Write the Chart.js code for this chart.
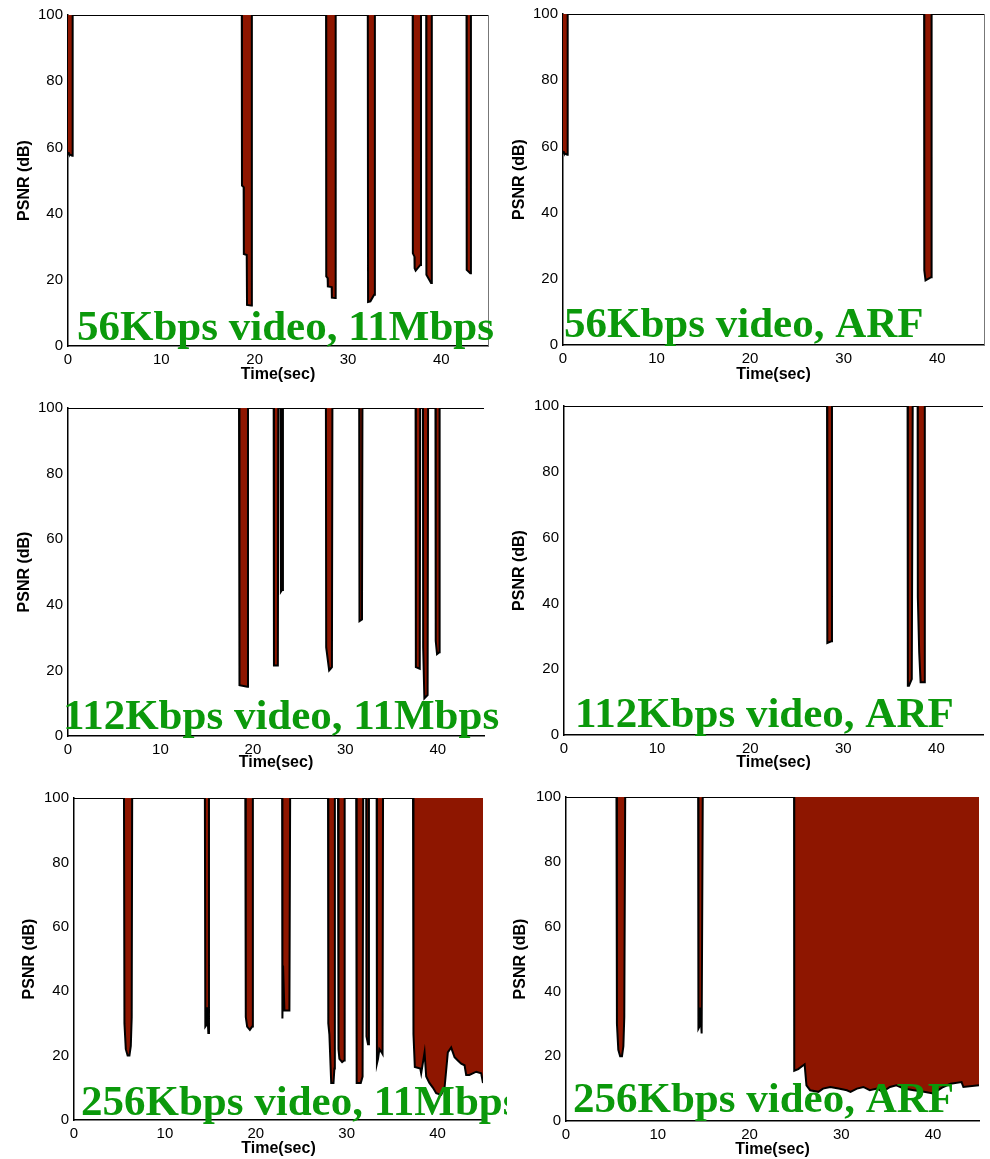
<!DOCTYPE html>
<html>
<head>
<meta charset="utf-8">
<script src="https://cdn.jsdelivr.net/npm/chart.js@4.4.1/dist/chart.umd.min.js"></script>
<style>
  body { margin: 0; background: #fff; width: 990px; height: 1159px; position: relative; overflow: hidden; }
  canvas { position: absolute; }
</style>
</head>
<body>
<canvas id="c1"></canvas>
<canvas id="c2"></canvas>
<canvas id="c3"></canvas>
<canvas id="c4"></canvas>
<canvas id="c5"></canvas>
<canvas id="c6"></canvas>
<script>
// tick labels
var timeTicks = [0, 10, 20, 30, 40];
var psnrTicks = [0, 20, 40, 60, 80, 100];

// 56Kbps video, 11Mbps
var time56_11 = [0, 0.1, 0.45, 0.5,
  18.62, 18.64, 18.82, 18.84, 19.15, 19.18, 19.65, 19.7,
  27.65, 27.67, 27.82, 27.84, 28.25, 28.27, 28.63, 28.68,
  32.12, 32.15, 32.4, 32.8, 32.88,
  36.93, 36.95, 37.12, 37.14, 37.25, 37.75, 37.82,
  38.38, 38.4, 38.9, 38.98,
  42.7, 42.72, 43.1, 43.17, 45];
var psnr56_11 = [58.5, 58, 57.5, 100,
  100, 48.5, 48, 27.8, 27.5, 12.4, 12.2, 100,
  100, 21, 20.5, 18, 17.8, 14.6, 14.5, 100,
  100, 13.3, 13.5, 15.5, 100,
  100, 28, 27, 23.5, 22.8, 24.5, 100,
  100, 21.5, 19, 100,
  100, 23, 22, 100, 100];

// 56Kbps video, ARF
var time56_arf = [0, 0.1, 0.45, 0.5, 38.6, 38.62, 38.75, 39.35, 39.4, 45];
var psnr56_arf = [58.5, 58, 57.5, 100, 100, 22.5, 19.5, 20.5, 100, 100];

// 112Kbps video, 11Mbps
var time112_11 = [0,
  18.5, 18.55, 19.4, 19.47,
  22.25, 22.28, 22.7, 22.75,
  23.0, 23.03, 23.15, 23.25,
  27.9, 27.93, 28.25, 28.4, 28.55, 28.6,
  31.5, 31.53, 31.8, 31.85,
  37.6, 37.63, 38.05, 38.1,
  38.4, 38.42, 38.55, 38.9, 38.95,
  39.75, 39.78, 39.92, 40.15, 40.2, 45];
var psnr112_11 = [100,
  100, 15.5, 15, 100,
  100, 21.5, 21.5, 100,
  100, 44, 44.5, 100,
  100, 27, 20, 20.5, 21, 100,
  100, 35, 35.5, 100,
  100, 21, 20.5, 100,
  100, 27, 11.5, 12.5, 100,
  100, 29, 25, 25.5, 100, 100];

// 112Kbps video, ARF
var time112_arf = [0,
  28.25, 28.28, 28.7, 28.78,
  36.9, 36.93, 37.05, 37.35, 37.45,
  37.98, 38.0, 38.15, 38.3, 38.68, 38.75, 45];
var psnr112_arf = [100,
  100, 28, 28.5, 100,
  100, 15, 15, 17, 100,
  100, 42, 25, 16, 16, 100, 100];

// 256Kbps video, 11Mbps
var time256_11 = [0,
  5.5, 5.55, 5.7, 5.9, 6.1, 6.25, 6.35, 6.4,
  14.4, 14.45, 14.58, 14.65, 14.78, 14.85,
  18.85, 18.9, 19.05, 19.35, 19.6, 19.68,
  22.9, 22.93, 23.0, 23.15, 23.7, 23.78,
  27.95, 27.98, 28.1, 28.3, 28.55, 28.65, 28.7,
  29.05, 29.1, 29.2, 29.5, 29.72, 29.78,
  31.05, 31.1, 31.55, 31.75, 31.82,
  32.15, 32.18, 32.35, 32.45,
  33.3, 33.33, 33.45, 33.6, 33.85, 33.95, 34.0,
  37.3, 37.35, 37.5, 38.1, 38.2, 38.57, 38.75, 39.1, 39.5, 39.85, 40.4, 40.77,
  41.13, 41.5, 41.87, 42.23, 42.6, 42.97, 43.15, 43.5, 44.26, 44.8, 45];
var psnr256_11 = [100,
  100, 30, 22, 20, 20, 23, 32, 100,
  100, 29, 29.5, 35, 27, 100,
  100, 32, 29, 28, 29, 100,
  100, 31.5, 48, 34, 34, 100,
  100, 30, 26.5, 11.5, 11.5, 16, 100,
  100, 22, 19, 18, 18.5, 100,
  100, 11.5, 11.5, 13.5, 100,
  100, 26, 23.5, 100,
  100, 17.5, 19, 22, 21, 20.5, 100,
  100, 26.6, 16.5, 16, 14.5, 21, 13.5, 11.5, 10, 8.3, 7.8, 10,
  21, 22.5, 19.5, 18.5, 17.5, 17, 14, 14, 15, 14.5, 11.5];

// 256Kbps video, ARF
var time256_arf = [0,
  5.5, 5.55, 5.7, 5.9, 6.1, 6.25, 6.35, 6.45,
  14.4, 14.43, 14.52, 14.62, 14.78, 14.9,
  24.85, 24.87, 25.3, 26.0, 26.2, 26.6, 27.5, 28.0, 28.8, 29.7, 30.6, 31.0,
  31.7, 32.4, 33.1, 33.9, 34.5, 35.3, 36.0, 36.8, 37.9, 39.0, 40.0, 41.1,
  41.9, 43.1, 43.3, 45];
var psnr256_arf = [100,
  100, 30, 22, 20, 20, 23, 32, 100,
  100, 28.5, 29, 35, 27, 100,
  100, 15.5, 16, 17.5, 11, 9.5, 9, 10, 10.5, 10, 9.5, 9,
  10, 10.5, 9.5, 10, 9, 10.5, 11, 10, 9.5, 9, 8.5, 10.5,
  11.5, 12, 10.5, 11];

var panels = [
  { id: 'c1', text: '56Kbps video, 11Mbps', time: time56_11, psnr: psnr56_11,
    box: [0, 0, 507, 390], area: [68, 15, 488, 346], label: [77, 340], yTitleX: 25, xTitleY: 375, frame: true },
  { id: 'c2', text: '56Kbps video, ARF', time: time56_arf, psnr: psnr56_arf,
    box: [500, 0, 490, 390], area: [563, 13, 984, 345], label: [564, 337], yTitleX: 520, xTitleY: 375, frame: true },
  { id: 'c3', text: '112Kbps video, 11Mbps', time: time112_11, psnr: psnr112_11,
    box: [0, 392, 507, 390], area: [68, 408, 484, 736], label: [63, 729], yTitleX: 25, xTitleY: 763, frame: false },
  { id: 'c4', text: '112Kbps video, ARF', time: time112_arf, psnr: psnr112_arf,
    box: [500, 392, 490, 390], area: [564, 406, 983, 735], label: [575, 727], yTitleX: 520, xTitleY: 763, frame: false },
  { id: 'c5', text: '256Kbps video, 11Mbps', time: time256_11, psnr: psnr256_11,
    box: [0, 783, 507, 376], area: [74, 798, 483, 1120], label: [81, 1115], yTitleX: 30, xTitleY: 1149, frame: false },
  { id: 'c6', text: '256Kbps video, ARF', time: time256_arf, psnr: psnr256_arf,
    box: [500, 783, 490, 376], area: [566, 796, 979, 1121], label: [573, 1112], yTitleX: 521, xTitleY: 1150, frame: false }
];

var labelPlugin = {
  id: 'panelLabel',
  afterDraw: function (chart, args, opts) {
    var ctx = chart.ctx, a = chart.chartArea;
    ctx.save();
    if (opts.frame) {
      ctx.strokeStyle = '#777';
      ctx.lineWidth = 1;
      ctx.beginPath();
      ctx.moveTo(a.right + 0.5, a.top);
      ctx.lineTo(a.right + 0.5, a.bottom);
      ctx.stroke();
    }
    ctx.font = 'bold 43px "Liberation Serif"';
    ctx.fillStyle = '#0b990b';
    ctx.textBaseline = 'alphabetic';
    ctx.fillText(opts.text, opts.x, opts.y);
    ctx.restore();
  }
};

var tickFont = { family: 'Liberation Sans', size: 15 };
var titleFont = { family: 'Liberation Sans', size: 16, weight: 'bold' };

panels.forEach(function (p) {
  var bx = p.box[0], by = p.box[1], bw = p.box[2], bh = p.box[3];
  var canvas = document.getElementById(p.id);
  canvas.width = bw;
  canvas.height = bh;
  canvas.style.left = bx + 'px';
  canvas.style.top = by + 'px';

  var yWidth = p.area[0] - bx;
  var xHeight = by + bh - p.area[3];

  new Chart(canvas.getContext('2d'), {
    type: 'line',
    data: {
      datasets: [{
        data: p.time.map(function (t, i) { return { x: t, y: p.psnr[i] }; }),
        borderColor: '#000',
        borderWidth: 2,
        backgroundColor: '#8e1600',
        fill: 'end',
        pointRadius: 0,
        tension: 0
      }]
    },
    options: {
      responsive: false,
      animation: false,
      layout: { padding: { left: 0, top: p.area[1] - by, right: bx + bw - p.area[2], bottom: 0 } },
      plugins: {
        legend: { display: false },
        tooltip: { enabled: false },
        panelLabel: { text: p.text, x: p.label[0] - bx, y: p.label[1] - by, frame: p.frame }
      },
      scales: {
        x: {
          type: 'linear',
          min: 0,
          max: 45,
          afterBuildTicks: function (s) { s.ticks = timeTicks.map(function (v) { return { value: v }; }); },
          afterFit: function (s) { s.height = xHeight; },
          grid: { display: false, drawTicks: false },
          border: { display: true, color: '#000', width: 1.5 },
          ticks: { color: '#000', font: tickFont, padding: 5, maxRotation: 0 },
          title: { display: true, text: 'Time(sec)', color: '#000', font: titleFont,
                   padding: { top: 0, bottom: by + bh - p.xTitleY - 9.6 } }
        },
        y: {
          min: 0,
          max: 100,
          afterBuildTicks: function (s) { s.ticks = psnrTicks.map(function (v) { return { value: v }; }); },
          afterFit: function (s) { s.width = yWidth; },
          grid: { display: false, drawTicks: false },
          border: { display: true, color: '#000', width: 1.5 },
          ticks: { color: '#000', font: tickFont, padding: 5 },
          title: { display: true, text: 'PSNR (dB)', color: '#000', font: titleFont,
                   padding: { top: p.yTitleX - bx - 9.6, bottom: 0 } }
        }
      }
    },
    plugins: [labelPlugin]
  });
});
</script>
</body>
</html>
